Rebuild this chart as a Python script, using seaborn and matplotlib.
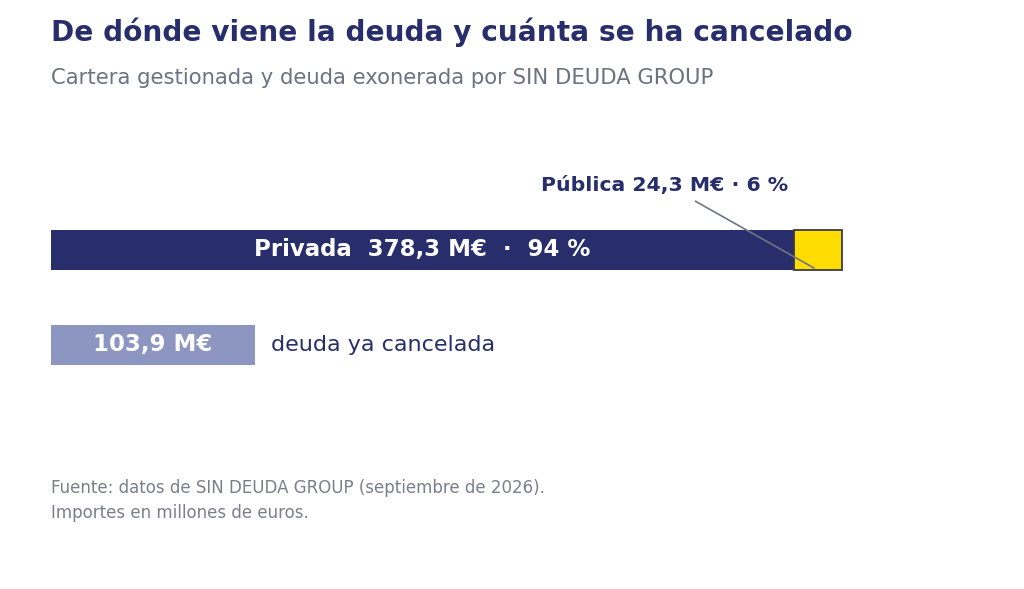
import seaborn as sns
import pandas as pd
import matplotlib.pyplot as plt

sns.set_theme(style="white")
plt.rcParams['font.family'] = 'sans-serif'
plt.rcParams['font.sans-serif'] = ['DejaVu Sans']

# datos (millones de euros)
filas = ['Cartera', 'Cancelada']
privada = 378.3
publica = 24.3
cancelada = 103.9
pct_privada = 94
pct_publica = 6

NAVY = '#272E6B'
YELLOW = '#FFDD00'
LILA = '#8C96C1'
GRIS = '#6B7280'

df = pd.DataFrame({'fila': filas, 'valor': [privada, cancelada]})

fig = plt.figure(figsize=(10.24, 5.89), dpi=100)
W, H = 1024, 589
px = 1.964  # pixels per M€
ax = fig.add_axes([51 / W, 1 - 440 / H, 960 / W, 310 / H])

sns.barplot(data=df, y='fila', x='valor', hue='fila', palette=[NAVY, LILA],
            orient='h', width=0.42, legend=False, ax=ax, saturation=1,
            linewidth=0)
ax.barh(0, publica, left=privada, height=0.42, color=YELLOW,
        edgecolor='#3A3B4A', linewidth=1.3)

ax.set_xlim(0, 960 / px)
ax.set_ylim(2.0, -1.263)
ax.axis('off')

ax.text(privada / 2, 0, f'Privada  {privada:.1f} M€  ·  {pct_privada} %'.replace('.', ','),
        color='white', fontsize=16.5, fontweight='bold', ha='center', va='center')
ax.text(cancelada / 2, 1, f'{cancelada:.1f} M€'.replace('.', ','),
        color='white', fontsize=16.5, fontweight='bold', ha='center', va='center')
ax.annotate('deuda ya cancelada',
            xy=(cancelada, 1), xytext=(16, 0), textcoords='offset pixels',
            color=NAVY, fontsize=16, ha='left', va='center')

ax.annotate(f'Pública {publica:.1f} M€ · {pct_publica} %'.replace('.', ','),
            xy=(privada + publica * 0.42, 0.19), xytext=(-149, 83),
            textcoords='offset pixels', ha='center', va='center',
            color=NAVY, fontsize=14.7, fontweight='bold',
            arrowprops=dict(arrowstyle='-', color='#6E7582', lw=1.2,
                            relpos=(0.575, 0), shrinkA=5, shrinkB=0))

fig.text(51 / W, 1 - 32 / H, 'De dónde viene la deuda y cuánta se ha cancelado',
         color=NAVY, fontsize=20.2, fontweight='bold', ha='left', va='center')
fig.text(51 / W, 1 - 78 / H, 'Cartera gestionada y deuda exonerada por SIN DEUDA GROUP',
         color=GRIS, fontsize=15.2, ha='left', va='center')
fig.text(51 / W, 1 - 488 / H, 'Fuente: datos de SIN DEUDA GROUP (septiembre de 2026).',
         color='#7A7F8A', fontsize=12, ha='left', va='center')
fig.text(51 / W, 1 - 513 / H, 'Importes en millones de euros.',
         color='#7A7F8A', fontsize=12, ha='left', va='center')

fig.savefig('out.png', dpi=100)
